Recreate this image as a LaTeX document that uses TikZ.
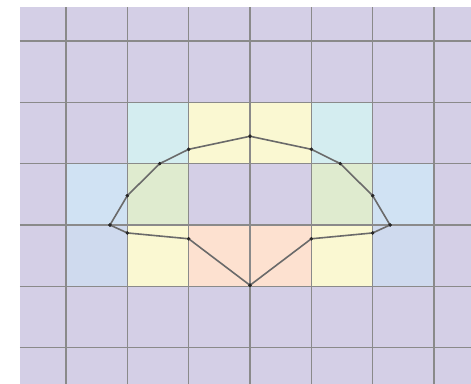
\documentclass[tikz,border=0pt]{standalone}
\definecolor{bgl}{HTML}{D4CFE6}
\definecolor{cy}{HTML}{D4EDF0}
\definecolor{ye}{HTML}{FAF8D2}
\definecolor{lb}{HTML}{D0E2F3}
\definecolor{gr}{HTML}{DFEBCF}
\definecolor{bl}{HTML}{CFDAEE}
\definecolor{pe}{HTML}{FDE1D0}
\definecolor{gl}{HTML}{8A8A8A}
\definecolor{pl}{HTML}{6A6A6A}
\tikzset{
  gridline/.style={draw=gl, line width=1.1pt},
  poly/.style={draw=pl, line width=1.6pt, line join=round},
  vtx/.style={circle, fill=black!85, inner sep=0pt, minimum size=3.6pt}
}
\begin{document}
\begin{tikzpicture}[x=61.333pt,y=61.333pt]
\useasboundingbox (-4.076,-2.592) rectangle (3.603,3.668);
\fill[bgl] (-3.750,-2.592) rectangle (3.603,3.554);
% coloured cells
\fill[cy] (-2,1) rectangle (-1,2);
\fill[ye] (-1,1) rectangle (0,2);
\fill[ye] (0,1) rectangle (1,2);
\fill[cy] (1,1) rectangle (2,2);
\fill[lb] (-3,0) rectangle (-2,1);
\fill[gr] (-2,0) rectangle (-1,1);
\fill[gr] (1,0) rectangle (2,1);
\fill[lb] (2,0) rectangle (3,1);
\fill[bl] (-3,-1) rectangle (-2,0);
\fill[ye] (-2,-1) rectangle (-1,0);
\fill[pe] (-1,-1) rectangle (0,0);
\fill[pe] (0,-1) rectangle (1,0);
\fill[ye] (1,-1) rectangle (2,0);
\fill[bl] (2,-1) rectangle (3,0);
% grid
\foreach \x in {-3,...,3} \draw[gridline] (\x,-2.592) -- (\x,3.554);
\foreach \y in {-2,...,3} \draw[gridline] (-3.750,\y) -- (3.603,\y);
% vertices
\node[vtx] (t) at (0,1.446) {};
\node[vtx] (l1) at (-1,1.234) {};
\node[vtx] (l2) at (-1.472,1.0) {};
\node[vtx] (l3) at (-2,0.478) {};
\node[vtx] (l4) at (-2.283,0) {};
\node[vtx] (l5) at (-2,-0.13) {};
\node[vtx] (l6) at (-1,-0.225) {};
\node[vtx] (b) at (0,-0.983) {};
\node[vtx] (r6) at (1,-0.225) {};
\node[vtx] (r5) at (2,-0.13) {};
\node[vtx] (r4) at (2.283,0) {};
\node[vtx] (r3) at (2,0.478) {};
\node[vtx] (r2) at (1.472,1.0) {};
\node[vtx] (r1) at (1,1.234) {};
\draw[poly] (t.center) -- (l1.center) -- (l2.center) -- (l3.center) -- (l4.center) -- (l5.center) -- (l6.center) -- (b.center) -- (r6.center) -- (r5.center) -- (r4.center) -- (r3.center) -- (r2.center) -- (r1.center) -- cycle;
\foreach \n in {t,l1,l2,l3,l4,l5,l6,b,r6,r5,r4,r3,r2,r1} \node[vtx] at (\n) {};
\end{tikzpicture}
\end{document}
